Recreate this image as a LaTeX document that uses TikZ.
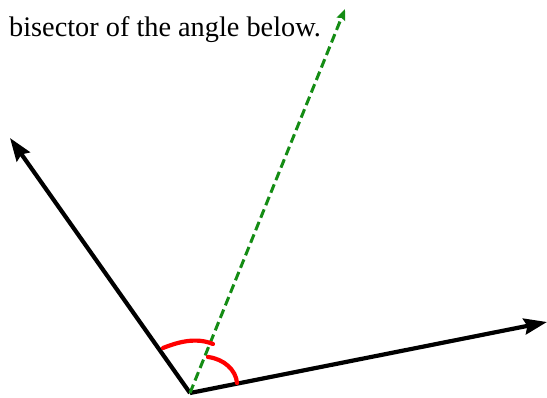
\documentclass[tikz,border=0pt]{standalone}
\usepackage{fontspec}
\setmainfont{Liberation Serif}
\usetikzlibrary{arrows.meta}
\begin{document}
\begin{tikzpicture}[x=1pt,y=-1pt,
  arm/.style={line width=4.2pt,-{Stealth[length=23pt,width=16pt,inset=3pt]}},
  bis/.style={line width=3pt,draw={rgb,255:red,20;green,140;blue,20},dash pattern=on 9pt off 4.5pt,-{Stealth[length=11pt,width=9pt,inset=1.5pt]}},
  redarc/.style={line width=4.2pt,draw=red,line cap=round},
  lbl/.style={font=\fontsize{28.3}{32}\selectfont,anchor=base west,inner sep=0pt}]
\useasboundingbox (0,0) rectangle (547,398);
\fill[white] (0,0) rectangle (547,398);
\node[lbl] (title) at (9,37) {bisector of the angle below.};
\coordinate (O) at (190,393);
\coordinate (A) at (10,138);
\coordinate (B) at (547,322);
\coordinate (C) at (345,9);
\coordinate (R1a) at (163,348);
\coordinate (R1b) at (213,344);
\coordinate (R2a) at (208,357);
\coordinate (R2b) at (237,383);
\draw[arm] (O) -- (A);
\draw[arm] (O) -- (B);
\draw[bis] (O) -- (C);
\draw[redarc] (R1a) .. controls (178,342) and (196,337) .. (R1b);
\draw[redarc] (R2a) .. controls (224,359) and (236,370) .. (R2b);
\end{tikzpicture}
\end{document}
